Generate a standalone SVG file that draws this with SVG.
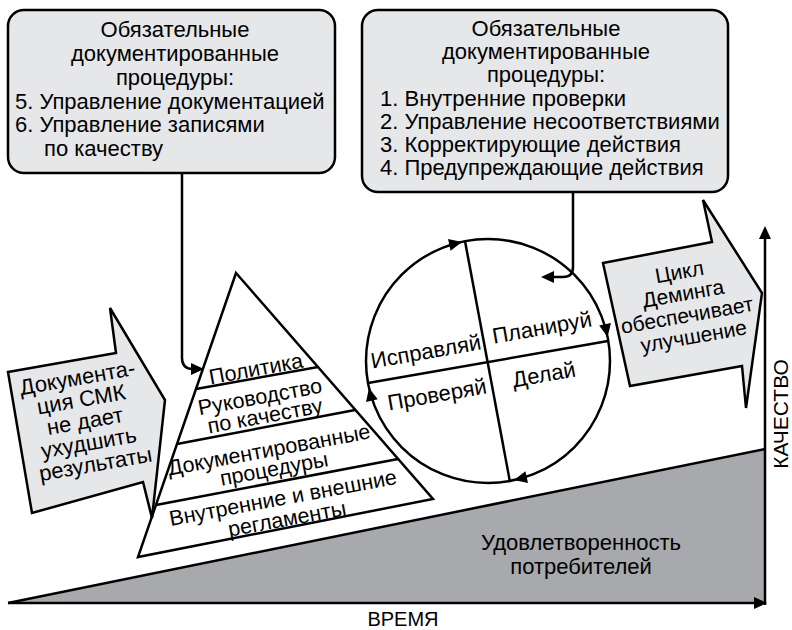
<svg xmlns="http://www.w3.org/2000/svg" width="792" height="630" viewBox="0 0 792 630">
<style>
.t{font-family:"Liberation Sans",Arial,Helvetica,sans-serif;font-size:22px;fill:#000}
.m{text-anchor:middle}
.box{fill:#e6e7e8;stroke:#000;stroke-width:2.5}
.ln{fill:none;stroke:#000;stroke-width:2.5}
.wh{fill:#fff;stroke:#000;stroke-width:2.5;stroke-linejoin:miter}
.ah{fill:#000}
</style>
<defs>
<path id="ah" d="M0,0 L-13,-6 L-13,6 Z"/>
</defs>
<rect width="792" height="630" fill="#fff"/>

<g id="chart">
<polygon points="8,603 765,449 765,603" fill="#a7a9ac"/>
<line class="ln" x1="8" y1="603" x2="765" y2="449"/>
<line class="ln" x1="8" y1="603" x2="754" y2="603"/>
<use href="#ah" class="ah" transform="translate(767,603)"/>
<line class="ln" x1="765" y1="605" x2="765" y2="238"/>
<use href="#ah" class="ah" transform="translate(765,226) rotate(-90)"/>
<text class="t m" x="581" y="550">Удовлетворенность</text>
<text class="t m" x="581" y="574">потребителей</text>
<text class="t m" x="403" y="626" style="font-size:20px">ВРЕМЯ</text>
<text class="t m" transform="translate(788,414) rotate(-90)" style="font-size:21px">КАЧЕСТВО</text>
</g>

<g id="pyramid">
<polygon class="wh" points="236,273 433,499 138,557"/>
<line class="ln" x1="196" y1="389" x2="318" y2="367"/>
<line class="ln" x1="177" y1="444" x2="355" y2="410"/>
<line class="ln" x1="156" y1="505" x2="398" y2="459"/>
<g class="t m" style="font-size:21.5px">
<text transform="rotate(-10.5,256,369)" x="256" y="376">Политика</text>
<text transform="rotate(-10.5,260,397)" x="260" y="404">Руководство</text>
<text transform="rotate(-10.5,265,416)" x="265" y="423">по качеству</text>
<text transform="rotate(-10.5,269,450)" x="269" y="457">Документированные</text>
<text transform="rotate(-10.5,274,469)" x="274" y="476">процедуры</text>
<text transform="rotate(-10.5,283,498)" x="283" y="505">Внутренние и внешние</text>
<text transform="rotate(-10.5,287,519)" x="287" y="526">регламенты</text>
</g>
</g>

<g id="pdca-circle">
<circle class="wh" cx="488" cy="361" r="122"/>
<line class="ln" x1="465" y1="241" x2="510" y2="482"/>
<line class="ln" x1="368" y1="383" x2="608" y2="341"/>
<use href="#ah" class="ah" transform="translate(462,242) rotate(-12.3)"/>
<use href="#ah" class="ah" transform="translate(607.6,337) rotate(78.7)"/>
<use href="#ah" class="ah" transform="translate(514,480) rotate(167.7)"/>
<use href="#ah" class="ah" transform="translate(369,388) rotate(-102.8)"/>
<g class="t m">
<text transform="rotate(-10,426,352)" x="426" y="359">Исправляй</text>
<text transform="rotate(-10,542,328)" x="542" y="335">Планируй</text>
<text transform="rotate(-10,437,395)" x="437" y="402">Проверяй</text>
<text transform="rotate(-10,544,375)" x="544" y="382">Делай</text>
</g>
</g>

<g id="arrow-left">
<polygon class="box" points="8,372 116,353 110,308 165,400 152,518 143,482 32,513" stroke-linejoin="miter"/>
<text class="t m" transform="rotate(-10,88,421)">
<tspan x="88" y="384">Документа-</tspan>
<tspan x="88" y="406">ция СМК</tspan>
<tspan x="88" y="428">не дает</tspan>
<tspan x="88" y="450">ухудшить</tspan>
<tspan x="88" y="472">результаты</tspan>
</text>
</g>

<g id="arrow-right">
<polygon class="box" points="603,263 712,242 703,200 762,293 746,408 742,366 630,386" stroke-linejoin="miter"/>
<text class="t m" transform="rotate(-10,688,304)" style="font-size:21px">
<tspan x="688" y="278">Цикл</tspan>
<tspan x="688" y="300">Деминга</tspan>
<tspan x="688" y="322">обеспечивает</tspan>
<tspan x="688" y="344">улучшение</tspan>
</text>
</g>

<g id="box-left">
<rect class="box" x="8" y="10" width="327" height="163" rx="16"/>
<text class="t m" x="175" y="37">Обязательные</text>
<text class="t m" x="175" y="61">документированные</text>
<text class="t m" x="175" y="85">процедуры:</text>
<text class="t" x="15" y="109">5. Управление документацией</text>
<text class="t" x="15" y="132">6. Управление записями</text>
<text class="t" x="44" y="156">по качеству</text>
</g>

<g id="box-right">
<rect class="box" x="362" y="10" width="366" height="182" rx="16"/>
<text class="t m" x="546" y="36">Обязательные</text>
<text class="t m" x="546" y="59">документированные</text>
<text class="t m" x="546" y="82">процедуры:</text>
<text class="t" x="380" y="106">1. Внутренние проверки</text>
<text class="t" x="380" y="129">2. Управление несоответствиями</text>
<text class="t" x="380" y="152">3. Корректирующие действия</text>
<text class="t" x="380" y="175">4. Предупреждающие действия</text>
</g>

<g id="connectors">
<path class="ln" d="M182,173 V358 Q182,369 193,369"/>
<use href="#ah" class="ah" transform="translate(204,369)"/>
<path class="ln" d="M573,192 V267 Q573,277 563,277 H553"/>
<use href="#ah" class="ah" transform="translate(541,277) rotate(180)"/>
</g>
</svg>
